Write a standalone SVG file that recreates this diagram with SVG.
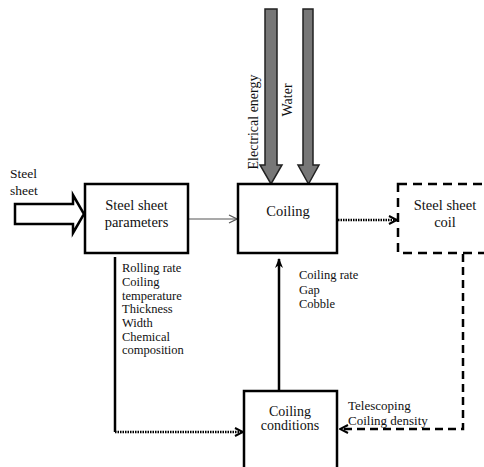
<svg xmlns="http://www.w3.org/2000/svg" width="484" height="467" viewBox="0 0 484 467">
<defs>
<style>
text{font-family:Liberation Serif,DejaVu Serif,Times New Roman,serif;fill:#111}
.box{fill:#fff;stroke:#000;stroke-width:2.5}
.dbox{fill:#fff;stroke:#000;stroke-width:2.5;stroke-dasharray:9 6}
.lbl{font-size:14.5px;text-anchor:middle}
.lst{font-size:12.5px}
.big{fill:#777;stroke:#222;stroke-width:1.5}
.line{fill:none;stroke:#000;stroke-width:2.5}
</style>
<marker id="ah" viewBox="0 0 10 10" refX="9" refY="5" markerWidth="10" markerHeight="10" markerUnits="userSpaceOnUse" orient="auto">
<path d="M1,1 L9,5 L1,9" fill="none" stroke="#000" stroke-width="2"/>
</marker>
<marker id="ahs" viewBox="0 0 10 10" refX="9" refY="5" markerWidth="10" markerHeight="10" markerUnits="userSpaceOnUse" orient="auto">
<path d="M1,1 L9,5 L1,9" fill="none" stroke="#555" stroke-width="1.2"/>
</marker>
<marker id="ahf" viewBox="0 0 10 10" refX="9" refY="5" markerWidth="10" markerHeight="12" markerUnits="userSpaceOnUse" orient="auto">
<path d="M0,1 L10,5 L0,9 L3,5 Z" fill="#000"/>
</marker>
</defs>

<g id="connectors">
<polygon class="big" points="265,9 277,9 277,165 282,165 271,184 260,165 265,165"/>
<polygon class="big" points="303,9 313,9 313,165 319,165 308.5,184 298,165 303,165"/>
<polygon points="15,204 73,204 73,195 84,214 73,233 73,224 15,224" fill="#fff" stroke="#000" stroke-width="2.5"/>
<line x1="189" y1="219" x2="237" y2="219" stroke="#555" stroke-width="1.2" marker-end="url(#ahs)"/>
<line x1="338" y1="220" x2="397" y2="220" stroke="#000" stroke-width="2.5" stroke-dasharray="1.5 1" marker-end="url(#ah)"/>
<path class="line" d="M115,257 V432"/>
<line x1="115" y1="432" x2="243" y2="432" stroke="#000" stroke-width="2.5" stroke-dasharray="1.5 1" marker-end="url(#ah)"/>
<line x1="279" y1="391" x2="279" y2="259" stroke="#000" stroke-width="2.5" marker-end="url(#ahf)"/>
<path d="M463,254 V429 H340" fill="none" stroke="#000" stroke-width="2.5" stroke-dasharray="8 5" marker-end="url(#ah)"/>
</g>

<g id="steel-sheet-input">
<text x="10" y="178" font-size="13.5">Steel</text>
<text x="10" y="195" font-size="13.5">sheet</text>
</g>

<g id="electrical-energy">
<text transform="translate(258,122) rotate(-90)" text-anchor="middle" font-size="14">Electrical energy</text>
</g>
<g id="water">
<text transform="translate(292,100) rotate(-90)" text-anchor="middle" font-size="14">Water</text>
</g>

<g id="steel-sheet-parameters">
<rect class="box" x="85" y="184" width="103" height="69"/>
<text class="lbl" x="136.5" y="210">Steel sheet</text>
<text class="lbl" x="136.5" y="227">parameters</text>
</g>

<g id="coiling">
<rect class="box" x="238" y="184" width="99" height="69"/>
<text class="lbl" x="288" y="216">Coiling</text>
</g>

<g id="steel-sheet-coil">
<rect class="dbox" x="398" y="184" width="100" height="69"/>
<text class="lbl" x="445" y="210">Steel sheet</text>
<text class="lbl" x="445" y="227">coil</text>
</g>

<g id="coiling-conditions">
<rect class="box" x="244" y="391" width="93" height="82"/>
<text class="lbl" x="290" y="416" style="font-size:14px">Coiling</text>
<text class="lbl" x="290" y="430" style="font-size:14px">conditions</text>
</g>

<g id="parameter-list">
<text class="lst" x="122" y="272">Rolling rate</text>
<text class="lst" x="122" y="286">Coiling</text>
<text class="lst" x="122" y="300">temperature</text>
<text class="lst" x="122" y="313">Thickness</text>
<text class="lst" x="122" y="327">Width</text>
<text class="lst" x="122" y="341">Chemical</text>
<text class="lst" x="122" y="354">composition</text>
</g>

<g id="condition-list">
<text class="lst" x="299" y="279">Coiling rate</text>
<text class="lst" x="299" y="294">Gap</text>
<text class="lst" x="299" y="308">Cobble</text>
</g>

<g id="feedback-list">
<text class="lst" x="348" y="410" style="font-size:13px">Telescoping</text>
<text class="lst" x="348" y="425" style="font-size:13px">Coiling density</text>
</g>
</svg>
